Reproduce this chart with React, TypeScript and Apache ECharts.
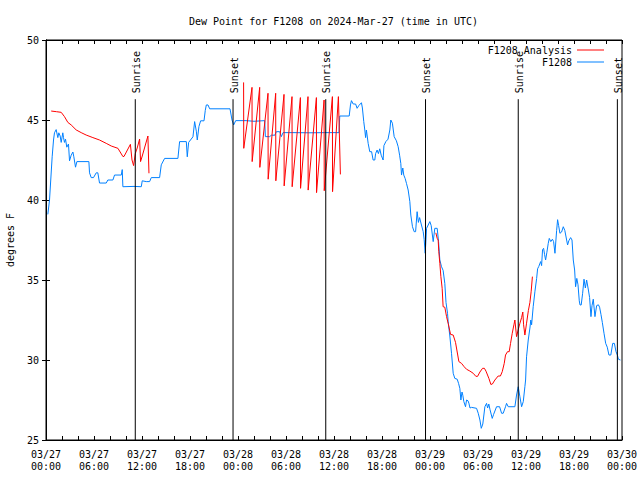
import React, { useEffect, useRef } from 'react';
import * as echarts from 'echarts';

const TITLE = 'Dew Point for F1208 on 2024-Mar-27 (time in UTC)';
const Y_NAME = 'degrees F';
const dayLabels = ['03/27', '03/28', '03/29', '03/30'];
const seriesNames = ['F1208 Analysis', 'F1208'];
const sunTimes = [11.16, 23.38, 34.97, 47.44, 59.03, 71.42];
const sunLabels = ['Sunrise', 'Sunset', 'Sunrise', 'Sunset', 'Sunrise', 'Sunset'];
const sunLineTop = 46.3;

// hours since 03/27 00:00 UTC, dew point (F)
const f1208: [number, number][] = [
  [0.23, 39.1], [0.44, 40.0], [0.77, 42.7], [0.94, 43.75], [1.06, 44.2], [1.27, 44.4], [1.48, 43.9],
  [1.6, 44.2], [1.77, 44.0], [1.9, 43.6], [2.1, 44.2], [2.19, 43.9], [2.31, 43.6], [2.44, 43.8],
  [2.6, 43.3], [2.81, 43.5], [2.94, 42.45], [3.15, 42.8], [3.36, 43.0], [3.48, 42.7], [3.69, 42.05],
  [3.86, 42.4], [5.36, 42.4], [5.44, 41.7], [5.65, 41.4], [5.94, 41.4], [6.28, 41.7], [6.48, 41.7],
  [6.69, 41.06], [7.53, 41.06], [7.73, 41.25], [8.36, 41.25], [8.57, 41.56], [9.41, 41.56],
  [9.53, 41.9], [9.61, 40.83], [11.0, 40.85], [11.91, 40.83], [12.03, 41.2], [12.53, 41.15],
  [12.95, 41.15], [13.16, 41.4], [14.2, 41.4], [14.41, 42.2], [14.83, 42.6], [16.49, 42.6],
  [16.7, 43.65], [17.54, 43.65], [17.66, 42.7], [17.83, 43.6], [18.37, 43.95], [18.58, 44.9],
  [18.79, 44.3], [18.91, 43.75], [19.12, 44.6], [19.33, 44.95], [19.75, 44.95], [19.91, 45.6],
  [20.04, 45.94], [20.25, 45.94], [20.46, 45.7], [23.0, 45.7], [23.25, 45.0], [23.46, 44.69],
  [23.71, 44.96], [25.0, 44.96], [26.0, 44.92], [27.34, 44.96], [27.42, 43.96], [27.96, 43.96],
  [28.17, 44.05], [28.6, 44.05], [28.8, 44.27], [29.21, 44.27], [29.42, 43.96], [29.63, 44.21],
  [31.0, 44.21], [33.0, 44.2], [35.0, 44.21], [36.63, 44.21], [36.72, 45.25], [37.9, 45.25],
  [38.06, 45.94], [38.18, 46.21], [38.4, 46.0], [38.7, 46.0], [38.89, 45.73], [39.1, 45.9],
  [39.43, 46.08], [39.55, 45.75], [39.72, 44.9], [39.85, 44.375], [39.95, 43.9], [40.05, 44.375],
  [40.27, 43.54], [40.47, 43.02], [40.7, 43.02], [40.89, 42.5], [41.1, 42.5], [41.2, 42.9],
  [41.39, 43.125], [41.55, 42.9], [41.72, 43.2], [41.9, 42.8], [42.14, 42.5], [42.24, 43.4],
  [42.48, 43.65], [42.75, 43.8], [42.98, 44.375], [43.1, 45.0], [43.3, 44.8], [43.52, 43.96],
  [43.8, 43.7], [44.02, 43.33], [44.2, 42.8], [44.35, 42.29], [44.44, 41.56], [44.6, 42.0],
  [44.72, 41.56], [44.89, 41.35], [45.06, 41.04], [45.27, 40.625], [45.48, 39.9], [45.6, 39.06],
  [45.81, 38.33], [46.02, 38.02], [46.2, 38.02], [46.39, 39.27], [46.55, 38.6], [46.7, 38.9],
  [46.9, 38.5], [47.15, 38.02], [47.27, 37.54], [47.4, 36.67], [47.57, 38.23], [47.98, 38.65],
  [48.15, 38.4], [48.4, 37.4], [48.6, 38.23], [48.9, 38.23], [49.07, 37.4], [49.23, 36.25],
  [49.44, 35.83], [49.64, 35.6], [49.85, 34.79], [50.0, 33.6], [50.19, 32.92], [50.27, 32.4],
  [50.48, 31.5], [50.69, 30.42], [50.9, 29.17], [51.1, 28.85], [51.4, 28.8], [51.57, 28.54],
  [51.73, 28.23], [51.86, 27.5], [52.0, 28.0], [52.1, 27.8], [52.23, 27.4], [52.44, 27.08],
  [52.57, 27.5], [52.75, 27.45], [52.86, 27.3], [53.0, 27.0], [53.19, 27.04], [53.82, 26.98],
  [54.03, 26.67], [54.24, 26.25], [54.41, 25.73], [54.6, 26.0], [54.86, 27.08], [55.07, 27.29],
  [55.2, 27.0], [55.35, 27.25], [55.5, 26.9], [55.78, 26.35], [55.95, 26.6], [56.32, 27.08],
  [56.7, 27.08], [56.95, 26.67], [57.15, 26.67], [57.44, 27.08], [57.57, 27.29], [57.78, 27.08],
  [58.61, 27.08], [58.82, 27.81], [59.03, 28.33], [59.24, 27.7], [59.45, 27.08], [59.66, 27.4],
  [59.86, 28.33], [59.95, 28.75], [60.07, 30.2], [60.28, 31.25], [60.49, 32.0], [60.6, 32.5],
  [60.7, 32.2], [60.9, 33.33], [61.12, 34.3], [61.33, 35.1], [61.45, 35.7], [61.6, 35.85],
  [61.83, 36.15], [61.95, 35.9], [62.07, 36.9], [62.2, 36.98], [62.32, 36.6], [62.45, 36.25],
  [62.6, 36.7], [62.78, 37.29], [62.91, 37.6], [63.1, 37.4], [63.3, 37.55], [63.45, 37.4],
  [63.62, 36.67], [63.83, 38.1], [63.95, 38.77], [64.08, 38.4], [64.24, 37.92], [64.45, 38.0],
  [64.66, 38.33], [64.85, 38.1], [65.08, 37.5], [65.2, 37.19], [65.35, 37.45], [65.58, 37.65],
  [65.75, 37.5], [65.91, 36.25], [66.08, 35.625], [66.2, 34.58], [66.35, 35.1], [66.5, 34.7],
  [66.66, 33.7], [66.75, 33.44], [66.9, 33.44], [67.08, 34.17], [67.25, 35.05], [67.42, 34.5],
  [67.58, 35.0], [67.8, 34.375], [67.95, 33.9], [68.12, 32.71], [68.25, 33.4], [68.41, 33.8],
  [68.62, 32.71], [68.83, 33.4], [69.05, 33.45], [69.2, 33.3], [69.37, 32.85], [69.54, 32.35],
  [69.75, 31.67], [69.96, 31.04], [70.16, 30.8], [70.37, 30.31], [70.6, 30.31], [70.84, 31.04],
  [71.05, 31.04], [71.25, 30.52], [71.42, 30.31], [71.55, 30.05], [71.8, 30.0],
];

const analysisDay1: [number, number][] = [
  [0.65, 45.56], [1.3, 45.52], [1.9, 45.48], [2.31, 45.21], [2.73, 44.85], [3.15, 44.69],
  [3.77, 44.38], [4.4, 44.21], [5.02, 44.06], [5.86, 43.9], [6.69, 43.75], [7.53, 43.54],
  [8.16, 43.375], [8.99, 43.23], [9.61, 42.72], [9.75, 42.72], [10.55, 43.48], [10.75, 42.5],
  [10.95, 42.15], [11.16, 42.9], [11.4, 43.25], [11.7, 43.81], [11.82, 42.4], [12.03, 42.75],
  [12.74, 44.0], [12.87, 41.67],
];

const analysisDay2: [number, number][] = [
  [24.7, 47.35], [24.72, 43.23], [25.75, 47.04], [25.77, 42.4], [26.71, 47.04], [26.73, 42.04],
  [27.75, 46.67], [27.77, 41.3], [28.71, 46.67], [28.73, 41.2], [29.75, 46.6], [29.77, 40.88],
  [30.75, 46.46], [30.77, 40.83], [31.8, 46.4], [31.82, 40.73], [32.75, 46.46], [32.77, 40.62],
  [33.8, 46.4], [33.82, 40.46], [34.76, 46.25], [34.78, 40.58], [35.8, 46.46], [35.82, 40.52],
  [36.55, 46.46], [36.8, 41.6],
];

const analysisDay3: [number, number][] = [
  [48.73, 37.95], [48.9, 37.6], [49.02, 37.5], [49.1, 36.77], [49.23, 36.04], [49.36, 35.21],
  [49.52, 34.48], [49.64, 33.33], [49.85, 33.3], [50.07, 32.71], [50.27, 32.29], [50.57, 31.6],
  [50.9, 31.56], [51.19, 31.1], [51.4, 30.5], [51.61, 29.9], [51.94, 29.79], [52.27, 29.58],
  [52.57, 29.42], [52.98, 29.31], [53.4, 29.17], [53.73, 28.98], [53.95, 28.98], [54.24, 29.25],
  [54.57, 29.48], [54.8, 29.48], [55.0, 29.3], [55.36, 28.85], [55.61, 28.47], [55.8, 28.5],
  [56.11, 28.75], [56.52, 29.0], [56.8, 29.0], [57.03, 29.27], [57.28, 29.79], [57.44, 30.31],
  [57.69, 30.52], [57.9, 30.52], [58.07, 31.04], [58.28, 31.67], [58.49, 32.2], [58.61, 32.5],
  [58.82, 31.46], [59.03, 31.9], [59.24, 32.3], [59.45, 32.65], [59.6, 33.0], [59.7, 32.2],
  [59.86, 31.56], [60.07, 32.3], [60.3, 33.1], [60.49, 33.6], [60.65, 34.3], [60.8, 35.21],
];

const FONT = "'DejaVu Sans Mono', monospace";

export default function App() {
  const ref = useRef<HTMLDivElement>(null);
  useEffect(() => {
    if (!ref.current) return;
    const chart = echarts.init(ref.current, null, { renderer: 'svg' });
    const analysis: any[] = [
      ...analysisDay1,
      [18, '-'],
      ...analysisDay2,
      [42, '-'],
      ...analysisDay3,
    ];
    const xFmt = (v: number) => {
      if (v % 6 !== 0) return '';
      const d = Math.floor(v / 24);
      const h = v % 24;
      return dayLabels[d] + '\n' + String(h).padStart(2, '0') + ':00';
    };
    const tick = { show: true, inside: true, length: 4, lineStyle: { color: '#000', width: 1 } };
    chart.setOption({
      animation: false,
      backgroundColor: '#fff',
      textStyle: { fontFamily: FONT, fontSize: 10, color: '#000' },
      title: {
        text: TITLE,
        left: 184,
        top: 11,
        textStyle: { fontFamily: FONT, fontSize: 10, fontWeight: 'normal', color: '#000' },
      },
      legend: {
        orient: 'vertical',
        right: 31,
        top: 39,
        align: 'right',
        itemGap: 0,
        itemWidth: 27,
        itemHeight: 1,
        icon: 'rect',
        data: seriesNames,
        textStyle: { fontFamily: FONT, fontSize: 10, color: '#000', lineHeight: 12 },
      },
      grid: {
        left: 46,
        right: 18,
        top: 40,
        bottom: 40,
        outerBoundsMode: 'none',
        containLabel: false,
        show: true,
        borderColor: '#000',
        borderWidth: 1,
        backgroundColor: 'transparent',
      },
      xAxis: [
        {
          type: 'value',
          min: 0,
          max: 72,
          interval: 2,
          position: 'bottom',
          axisLine: { show: true, lineStyle: { color: '#000' } },
          axisTick: tick,
          splitLine: { show: false },
          axisLabel: {
            formatter: xFmt,
            fontFamily: FONT,
            fontSize: 10,
            color: '#000',
            lineHeight: 12,
            margin: 8,
            showMinLabel: true,
            showMaxLabel: true,
          },
        },
        {
          type: 'value',
          min: 0,
          max: 72,
          interval: 2,
          position: 'top',
          axisLine: { show: true, lineStyle: { color: '#000' } },
          axisTick: tick,
          splitLine: { show: false },
          axisLabel: { show: false },
        },
      ],
      yAxis: [
        {
          type: 'value',
          min: 25,
          max: 50,
          interval: 5,
          position: 'left',
          name: Y_NAME,
          nameLocation: 'middle',
          nameGap: 31,
          nameTextStyle: { fontFamily: FONT, fontSize: 10, color: '#000' },
          axisLine: { show: true, lineStyle: { color: '#000' } },
          axisTick: tick,
          splitLine: { show: false },
          axisLabel: { fontFamily: FONT, fontSize: 10, color: '#000', margin: 7 },
        },
        {
          type: 'value',
          min: 25,
          max: 50,
          interval: 5,
          position: 'right',
          axisLine: { show: true, lineStyle: { color: '#000' } },
          axisTick: tick,
          splitLine: { show: false },
          axisLabel: { show: false },
        },
      ],
      series: [
        {
          name: seriesNames[1],
          type: 'line',
          data: f1208,
          showSymbol: false,
          symbol: 'none',
          lineStyle: { color: '#0080ff', width: 1 },
          itemStyle: { color: '#0080ff' },
          z: 2,
        },
        {
          name: seriesNames[0],
          type: 'line',
          data: analysis,
          connectNulls: false,
          showSymbol: false,
          symbol: 'none',
          lineStyle: { color: '#ff0000', width: 1 },
          itemStyle: { color: '#ff0000' },
          z: 3,
        },
        {
          name: 'sun',
          type: 'custom',
          data: sunTimes.map((t) => [t, sunLineTop]),
          encode: { x: 0, y: 1 },
          z: 4,
          silent: true,
          renderItem: (params: any, api: any) => {
            const x = api.value(0);
            const p0 = api.coord([x, 25]);
            const p1 = api.coord([x, api.value(1)]);
            return {
              type: 'group',
              children: [
                {
                  type: 'line',
                  shape: { x1: p0[0], y1: p0[1], x2: p1[0], y2: p1[1] },
                  style: { stroke: '#000', lineWidth: 1 },
                },
                {
                  type: 'text',
                  x: p1[0] + 1,
                  y: p1[1] - 6,
                  rotation: Math.PI / 2,
                  style: {
                    text: sunLabels[params.dataIndex],
                    textAlign: 'left',
                    textVerticalAlign: 'middle',
                    font: `10px ${FONT}`,
                    fill: '#000',
                  },
                },
              ],
            };
          },
        },
      ],
    });
    return () => chart.dispose();
  }, []);
  return <div ref={ref} style={{ position: 'absolute', left: 0, top: 0, width: 640, height: 480 }} />;
}
